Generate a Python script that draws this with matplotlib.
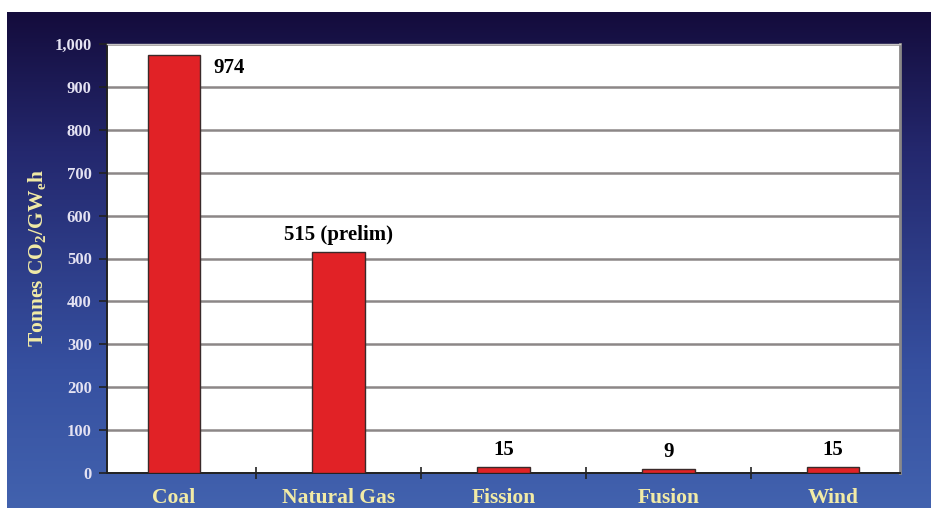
import matplotlib
matplotlib.use("Agg")
import matplotlib.pyplot as plt
import numpy as np
from matplotlib.colors import LinearSegmentedColormap
from matplotlib.ticker import FuncFormatter, FixedLocator

# Lifecycle CO2 emissions by generation technology
categories = ["Coal", "Natural Gas", "Fission", "Fusion", "Wind"]
emissions = [974, 515, 15, 9, 15]
value_labels = ["974", "515 (prelim)", "15", "9", "15"]
y_ticks = [0, 100, 200, 300, 400, 500, 600, 700, 800, 900, 1000]

plt.rcParams["mathtext.fontset"] = "custom"
plt.rcParams["mathtext.rm"] = "Liberation Serif:bold"
plt.rcParams["mathtext.it"] = "Liberation Serif:bold"
plt.rcParams["mathtext.bf"] = "Liberation Serif:bold"

W, H = 931, 508
fig = plt.figure(figsize=(W / 100, H / 100), dpi=100)
fig.patch.set_facecolor("white")

# Slide background: vertical navy-to-blue gradient panel
bg = fig.add_axes([7 / W, 0, 1 - 7 / W, (H - 12) / H])
bg.set_axis_off()
grad_cmap = LinearSegmentedColormap.from_list(
    "slide", [(0.0, "#140c3c"), (0.28, "#24286e"), (0.72, "#3650a0"), (1.0, "#4262ae")]
)
grad = np.linspace(0, 1, 256).reshape(-1, 1)
bg.imshow(grad, aspect="auto", cmap=grad_cmap, extent=[0, 1, 0, 1], origin="upper")

serif = ["Liberation Serif", "DejaVu Serif"]

ax = fig.add_axes([107 / W, (H - 473) / H, (900 - 107) / W, (473 - 44) / H])
ax.set_facecolor("white")

x = np.arange(len(categories))
ax.bar(x, emissions, width=0.32, color="#e12226", edgecolor="#3a2a2a",
       linewidth=1.0, zorder=3)

ax.set_xlim(-0.407, len(categories) - 1 + 0.407)
ax.set_ylim(0, 1000)

# Gridlines
ax.set_yticks(y_ticks)
ax.yaxis.grid(True, color="#8c8787", linewidth=1.8, zorder=1)
ax.set_axisbelow(True)
ax.yaxis.set_major_formatter(FuncFormatter(lambda v, p: f"{int(v):,}"))
ax.tick_params(axis="y", direction="out", length=6, width=1.2, color="#222222",
               labelcolor="#e4e2f2", labelsize=12, pad=5)
for lbl in ax.get_yticklabels():
    lbl.set_fontfamily(serif)
    lbl.set_fontweight("bold")

# Category labels and boundary ticks
ax.set_xticks(x)
ax.set_xticklabels(categories)
ax.tick_params(axis="x", which="major", length=0, labelcolor="#f2eba6",
               labelsize=15.5, pad=11)
for lbl in ax.get_xticklabels():
    lbl.set_fontfamily(serif)
    lbl.set_fontweight("bold")
ax.xaxis.set_minor_locator(FixedLocator(x[:-1] + 0.5))
ax.tick_params(axis="x", which="minor", direction="inout", length=9, width=1.2,
               color="#222222")

for side in ["left", "bottom"]:
    ax.spines[side].set_color("#222222")
    ax.spines[side].set_linewidth(1.4)
ax.spines["top"].set_color("#c8c6c6")
ax.spines["top"].set_linewidth(1.0)
ax.spines["right"].set_color("#8a8888")
ax.spines["right"].set_linewidth(2.0)

ax.set_ylabel("Tonnes CO$_2$/GW$_e$h", color="#f2eba6", fontsize=15.5,
              fontfamily=serif, fontweight="bold", labelpad=5)

# Value annotations
ax.annotate(value_labels[0], xy=(x[0] + 0.16, emissions[0]), xytext=(9, -2),
            textcoords="offset points", ha="left", va="top", fontsize=15,
            fontfamily=serif, fontweight="bold", color="black", zorder=4)
for i in range(1, len(categories)):
    ax.annotate(value_labels[i], xy=(x[i], emissions[i]), xytext=(0, 5),
                textcoords="offset points", ha="center", va="bottom", fontsize=15,
                fontfamily=serif, fontweight="bold", color="black", zorder=4)

fig.savefig("out.png", dpi=100)
